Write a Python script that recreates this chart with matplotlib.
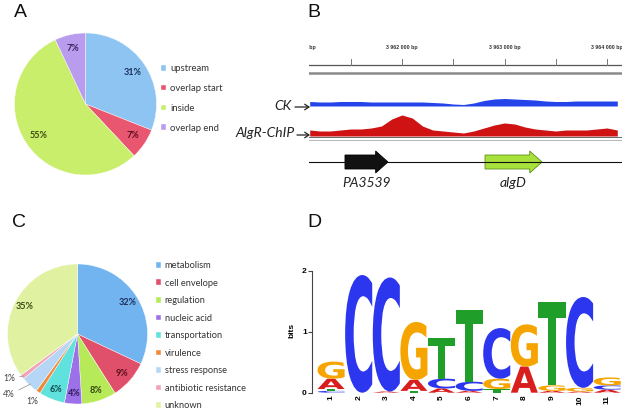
'''AlgR ChIP-seq summary figure'''

import math
import matplotlib
matplotlib.use('Agg')
import matplotlib.pyplot as plt
from matplotlib.textpath import TextPath
from matplotlib.patches import PathPatch, FancyArrow, FancyArrowPatch
from matplotlib.font_manager import FontProperties
from matplotlib.transforms import Affine2D

plt.rcParams['font.family'] = ['Lato', 'DejaVu Sans']

# ---- data ----
# A: peak location relative to genes
a_labels = ['upstream', 'overlap start', 'inside', 'overlap end']
a_values = [31, 7, 55, 7]
a_colors = ['#8ec4f2', '#e8566f', '#c8ee6c', '#b99ced']
a_text_colors = ['#1d2f5c', '#5a0f1e', '#3b4a12', '#3a235e']

# B: coverage tracks (sampled every 100 bp)
track_pos = list(range(3961100, 3964101, 100))
ck_cov = [4.5, 4, 4, 4.5, 4.5, 4.5, 4, 4, 4, 4, 4, 4, 3.5, 3, 2, 1.5,
          3, 5.5, 7, 7.5, 7, 6.5, 6, 5, 4.5, 4.5, 5, 5, 5, 5, 5]
chip_cov = [6, 5, 5, 6, 7, 7, 8, 10, 17, 21, 18, 10, 6, 5, 4, 3,
            5, 8, 11, 13, 12, 9, 7, 6, 5, 6, 6, 6, 7, 8, 6]
ruler_ticks = [3961500, 3962000, 3962500, 3963000, 3963500, 3964000]
ruler_labels = [3961000, 3962000, 3963000, 3964000]
gene_names = ['PA3539', 'algD']
gene_starts = [3961444, 3962810]
gene_ends = [3961863, 3963366]
gene_colors = ['#111111', '#a8e03c']
gene_edges = ['#000000', '#5f8f1c']

# C: functional categories
c_labels = ['metabolism', 'cell envelope', 'regulation', 'nucleic acid',
            'transportation', 'virulence', 'stress response',
            'antibiotic resistance', 'unknown']
c_values = [32, 9, 8, 4, 6, 1, 4, 1, 35]
c_colors = ['#72b4ef', '#e0506b', '#b6ea58', '#9c70e8', '#5fe2de',
            '#f08a3a', '#b5d7f5', '#f2a3b8', '#e0f2a2']
c_text_colors = ['#1d2f5c', '#5a0f1e', '#2f4210', '#2c1a5a', '#0f4a48',
                 '#333333', '#333333', '#333333', '#3b4a12']

# D: motif logo, letters stacked bottom -> top (letter, bits)
logo = [
    [('C', 0.03), ('T', 0.03), ('A', 0.17), ('G', 0.28)],
    [('C', 1.93)],
    [('A', 0.02), ('C', 1.87)],
    [('T', 0.03), ('A', 0.18), ('G', 0.95)],
    [('A', 0.07), ('C', 0.16), ('T', 0.66)],
    [('A', 0.03), ('C', 0.15), ('T', 1.18)],
    [('T', 0.06), ('G', 0.17), ('C', 0.83)],
    [('A', 0.43), ('G', 0.69)],
    [('A', 0.03), ('G', 0.09), ('T', 1.37)],
    [('A', 0.02), ('G', 0.06), ('C', 1.49)],
    [('A', 0.05), ('C', 0.07), ('G', 0.13)],
]
base_colors = {'A': '#d81e1e', 'C': '#2b36ee', 'G': '#f5a400', 'T': '#1f9e2a'}

W, H = 622, 409


def box(l, t, r, b):
    return [l / W, 1 - b / H, (r - l) / W, (b - t) / H]


def fy(y):
    return 1 - y / H


fig = plt.figure(figsize=(W / 100, H / 100), dpi=100)

# panel letters
for letter, x, y in [('A', 14, 4), ('B', 307, 4), ('C', 12, 214), ('D', 307, 214)]:
    fig.text(x / W, fy(y), letter, fontsize=14, family='Liberation Sans',
             va='top', ha='left', color='#111111')

# ---- A ----
ax_a = fig.add_axes(box(14.5, 33, 156.5, 175))
wedges, _, pcts = ax_a.pie(a_values, colors=a_colors, startangle=90,
                           counterclock=False, autopct='%1.0f%%',
                           pctdistance=0.8,
                           wedgeprops=dict(edgecolor='white', linewidth=0.3),
                           textprops=dict(fontsize=6.5, fontweight='bold'))
for t, c in zip(pcts, a_text_colors):
    t.set_color(c)
ax_a.set_xlim(-1, 1)
ax_a.set_ylim(-1, 1)
fig.legend(wedges, a_labels, loc='upper left', bbox_to_anchor=(161 / W, fy(64)),
           frameon=False, fontsize=6.8, handlelength=0.55, handleheight=0.55,
           handletextpad=0.4, labelspacing=1.15, borderpad=0, borderaxespad=0,
           labelcolor='#333333')

# ---- B ----
ax_b = fig.add_axes(box(309, 40, 622, 195))
ax_b.set_xlim(3961093, 3964146)
ax_b.set_ylim(0, 155)
ax_b.axis('off')
# ruler
ax_b.axhline(130, color='#555555', lw=0.9)
for p in ruler_ticks:
    ax_b.plot([p, p], [130, 136], color='#777777', lw=0.7)
for p in ruler_labels:
    txt = '{:,} bp'.format(p).replace(',', ' ')
    ax_b.text(p, 147, txt, fontsize=3.8, fontweight='bold', ha='center',
              va='center', family='Liberation Sans', color='#333333',
              clip_on=True)
ax_b.axhline(122, color='#8a8a8a', lw=1.8)
# coverage tracks
ax_b.fill_between(track_pos, 89, [89 + v for v in ck_cov], color='#2444ea', lw=0)
ax_b.fill_between(track_pos, 59, [59 + v for v in chip_cov], color='#cf1212', lw=0)
ax_b.axhline(57.5, color='#666666', lw=0.7)
ax_b.axhline(55, color='#999999', lw=0.5)
# genes
ax_b.axhline(33, color='#111111', lw=0.8)
for name, s, e, fc, ec in zip(gene_names, gene_starts, gene_ends, gene_colors, gene_edges):
    ax_b.add_patch(FancyArrow(s, 33, e - s, 0, width=14, head_width=22,
                              head_length=120, length_includes_head=True,
                              facecolor=fc, edgecolor=ec, lw=0.6))
    ax_b.text((s + e) / 2, 12, name, fontsize=10, style='italic', ha='center',
              va='center', color='#222222')

# track names
fig.text(292 / W, fy(106), 'CK', fontsize=10, style='italic', ha='right',
         va='center', color='#222222')
fig.text(295 / W, fy(133), 'AlgR-ChIP', fontsize=10, style='italic', ha='right',
         va='center', color='#222222')
for y0, x0 in [(107, 295), (135, 297)]:
    fig.add_artist(FancyArrowPatch(
        (x0 / W, fy(y0)), (310 / W, fy(y0)), transform=fig.transFigure,
        arrowstyle='->,head_length=3,head_width=2', color='#222222', lw=0.9,
        shrinkA=0, shrinkB=0))

# ---- C ----
ax_c = fig.add_axes(box(7.5, 264, 147.5, 404))
wedges_c, _ = ax_c.pie(c_values, colors=c_colors, startangle=90,
                       counterclock=False,
                       wedgeprops=dict(edgecolor='white', linewidth=0.3))
ax_c.set_xlim(-1, 1)
ax_c.set_ylim(-1, 1)
outside = {5: (-0.65, -0.96), 6: (-0.98, -0.87), 7: (-0.97, -0.63)}
for i, (w, v) in enumerate(zip(wedges_c, c_values)):
    ang = math.radians((w.theta1 + w.theta2) / 2)
    lbl = '%d%%' % v
    if i in outside:
        ex, ey = math.cos(ang), math.sin(ang)
        ax_c.annotate(lbl, xy=(ex * 0.98, ey * 0.98), xytext=outside[i],
                      fontsize=6.2, color='#444444', ha='center', va='center',
                      annotation_clip=False,
                      arrowprops=dict(arrowstyle='-', color='#888888', lw=0.5,
                                      shrinkA=1, shrinkB=0) if i != 5 else None)
    else:
        ax_c.text(0.85 * math.cos(ang), 0.85 * math.sin(ang), lbl, fontsize=6.5,
                  fontweight='bold', color=c_text_colors[i], ha='center',
                  va='center')
fig.legend(wedges_c, c_labels, loc='upper left', bbox_to_anchor=(156 / W, fy(261)),
           frameon=False, fontsize=6.7, handlelength=0.55, handleheight=0.55,
           handletextpad=0.4, labelspacing=0.92, borderpad=0, borderaxespad=0,
           labelcolor='#333333')

# ---- D ----
ax_d = fig.add_axes(box(312.3, 267.7, 621, 392.7))
ax_d.set_xlim(0.32, 11.5)
ax_d.set_ylim(0, 2.05)
fp = FontProperties(family='DejaVu Sans', weight='bold')
for pos, stack in enumerate(logo, start=1):
    y = 0
    for ch, h in stack:
        tp = TextPath((0, 0), ch, size=1, prop=fp)
        bb = tp.get_extents()
        tr = (Affine2D().translate(-bb.x0, -bb.y0)
              .scale(0.98 / bb.width, h / bb.height)
              .translate(pos - 0.49, y))
        ax_d.add_patch(PathPatch(tr.transform_path(tp), facecolor=base_colors[ch],
                                 edgecolor='none'))
        y += h
for s in ['top', 'right', 'bottom']:
    ax_d.spines[s].set_visible(False)
ax_d.spines['left'].set_color('#444444')
ax_d.spines['left'].set_linewidth(0.8)
ax_d.spines['left'].set_bounds(0, 2)
ax_d.set_yticks([0, 1, 2])
ax_d.set_xticks(range(1, 12))
ax_d.tick_params(axis='y', length=3, width=0.8, color='#444444', pad=1,
                 labelsize=6)
ax_d.tick_params(axis='x', length=0, pad=2, labelsize=6, labelrotation=90)
for t in ax_d.get_yticklabels() + ax_d.get_xticklabels():
    t.set_fontweight('bold')
    t.set_family('Liberation Sans')
ax_d.set_ylabel('bits', fontsize=6, fontweight='bold', family='Liberation Sans',
                labelpad=5)

fig.savefig('out.png', dpi=100)
